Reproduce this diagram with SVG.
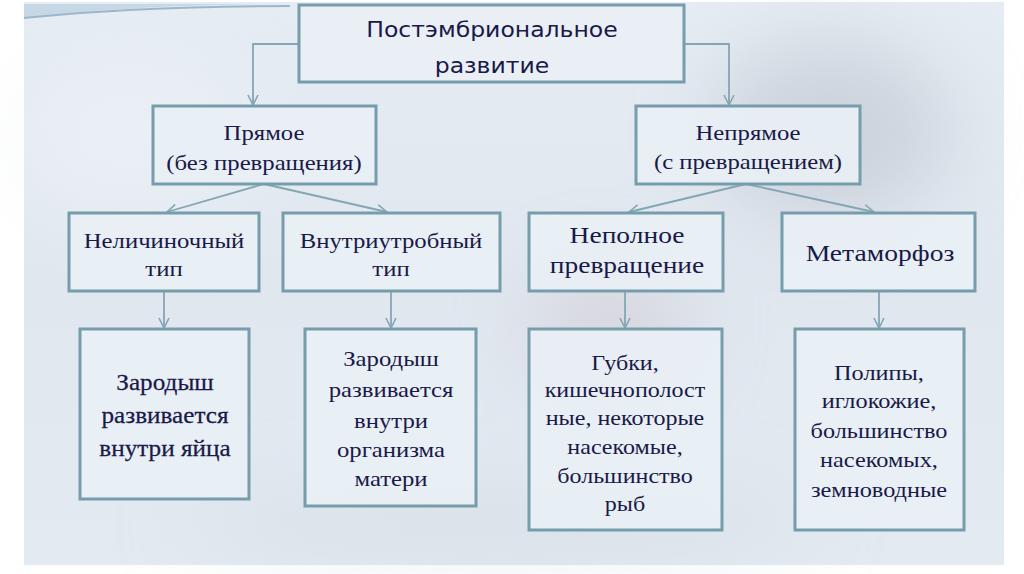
<svg xmlns="http://www.w3.org/2000/svg" width="1024" height="574" viewBox="0 0 1024 574">
<defs>
<linearGradient id="bg" x1="0" y1="0" x2="0" y2="1">
<stop offset="0" stop-color="#e5ecf3"/>
<stop offset="0.5" stop-color="#e0e7ef"/>
<stop offset="1" stop-color="#e3eaf1"/>
</linearGradient>
<filter id="blur" x="-50%" y="-50%" width="200%" height="200%"><feGaussianBlur stdDeviation="40"/></filter>
<marker id="arr" viewBox="0 0 12 12" refX="11" refY="6" markerWidth="12" markerHeight="12" markerUnits="userSpaceOnUse" orient="auto">
<path d="M1,1 L11,6 L1,11" fill="none" stroke="#84a6b4" stroke-width="1.6"/>
</marker>
</defs>
<style>
.box{fill:#e9eff5;fill-opacity:0.9;stroke:#769dab;stroke-width:3}
.con{fill:none;stroke:#84a6b4;stroke-width:1.8;marker-end:url(#arr)}
.s{font-family:"Liberation Serif","Times New Roman","DejaVu Serif",serif;fill:#1a1948;text-anchor:middle;font-size:21.5px}
.b{font-size:24px;stroke:#1a1948;stroke-width:0.25}
.m{font-size:23.5px}
.t{font-family:"DejaVu Sans","Verdana",sans-serif;fill:#1a1948;text-anchor:middle;font-size:22px}
</style>
<rect width="1024" height="574" fill="#ffffff"/>
<g id="background">
<rect x="24" y="2" width="980" height="563" fill="url(#bg)"/>
<g filter="url(#blur)" opacity="0.5">
<ellipse cx="830" cy="130" rx="120" ry="90" fill="#b7bdc7"/>
<ellipse cx="610" cy="330" rx="80" ry="60" fill="#cdc4cc"/>
<ellipse cx="130" cy="140" rx="120" ry="80" fill="#f2f5f9"/>
<ellipse cx="500" cy="525" rx="320" ry="28" fill="#c9d1db"/>
</g>
<path d="M24,18 Q140,4 290,4 L24,4 Z" fill="#c6d7e5"/>
<path d="M24,18 Q140,6 290,6" fill="none" stroke="#9db7ca" stroke-width="2"/>
</g>
<g id="connectors">
<path class="con" d="M299,44 H253 V105"/>
<path class="con" d="M684,44 H729 V105"/>
<path class="con" d="M264,184 L167,212"/>
<path class="con" d="M264,184 L387,212"/>
<path class="con" d="M746,184 L629,212"/>
<path class="con" d="M746,184 L874,212"/>
<path class="con" d="M164,291 V328"/>
<path class="con" d="M391,291 V328"/>
<path class="con" d="M625,291 V328"/>
<path class="con" d="M879,291 V328"/>
</g>
<g id="n-title">
<rect class="box" x="299" y="5" width="385" height="77"/>
<g transform="translate(492,0) scale(1.07,1)">
<text class="t" x="0" y="37">Постэмбриональное</text>
<text class="t" x="0" y="73">развитие</text>
</g>
</g>
<g id="n-direct">
<rect class="box" x="153" y="106" width="223" height="78"/>
<g transform="translate(264,0) scale(1.15,1)">
<text class="s" x="0" y="140">Прямое</text>
<text class="s" x="0" y="170">(без превращения)</text>
</g>
</g>
<g id="n-indirect">
<rect class="box" x="636" y="106" width="224" height="78"/>
<g transform="translate(748,0) scale(1.15,1)">
<text class="s" x="0" y="140">Непрямое</text>
<text class="s" x="0" y="169">(с превращением)</text>
</g>
</g>
<g id="n-nonlarval">
<rect class="box" x="69" y="213" width="190" height="78"/>
<g transform="translate(164,0) scale(1.15,1)">
<text class="s" x="0" y="248">Неличиночный</text>
<text class="s" x="0" y="276">тип</text>
</g>
</g>
<g id="n-intrauterine">
<rect class="box" x="283" y="213" width="217" height="78"/>
<g transform="translate(391,0) scale(1.15,1)">
<text class="s" x="0" y="248">Внутриутробный</text>
<text class="s" x="0" y="276">тип</text>
</g>
</g>
<g id="n-incomplete">
<rect class="box" x="529" y="213" width="194" height="78"/>
<g transform="translate(627,0) scale(1.17,1)">
<text class="s m" x="0" y="243">Неполное</text>
<text class="s m" x="0" y="273">превращение</text>
</g>
</g>
<g id="n-metamorphosis">
<rect class="box" x="782" y="213" width="193" height="78"/>
<g transform="translate(880,0) scale(1.15,1)">
<text class="s" x="0" y="261" style="font-size:24px">Метаморфоз</text>
</g>
</g>
<g id="n-egg">
<rect class="box" x="80" y="329" width="169" height="170"/>
<g transform="translate(165,0) scale(1.05,1)">
<text class="s b" x="0" y="390">Зародыш</text>
<text class="s b" x="0" y="423">развивается</text>
<text class="s b" x="0" y="456">внутри яйца</text>
</g>
</g>
<g id="n-mother">
<rect class="box" x="305" y="329" width="171" height="177"/>
<g transform="translate(391,0) scale(1.15,1)">
<text class="s" x="0" y="366">Зародыш</text>
<text class="s" x="0" y="397">развивается</text>
<text class="s" x="0" y="428">внутри</text>
<text class="s" x="0" y="457">организма</text>
<text class="s" x="0" y="486">матери</text>
</g>
</g>
<g id="n-sponges">
<rect class="box" x="529" y="329" width="193" height="201"/>
<g transform="translate(625,0) scale(1.12,1)">
<text class="s" x="0" y="370">Губки,</text>
<text class="s" x="0" y="397">кишечнополост</text>
<text class="s" x="0" y="425">ные, некоторые</text>
<text class="s" x="0" y="454">насекомые,</text>
<text class="s" x="0" y="483">большинство</text>
<text class="s" x="0" y="511">рыб</text>
</g>
</g>
<g id="n-polyps">
<rect class="box" x="795" y="329" width="169" height="201"/>
<g transform="translate(879,0) scale(1.13,1)">
<text class="s" x="0" y="380">Полипы,</text>
<text class="s" x="0" y="408">иглокожие,</text>
<text class="s" x="0" y="438">большинство</text>
<text class="s" x="0" y="467">насекомых,</text>
<text class="s" x="0" y="497">земноводные</text>
</g>
</g>
</svg>
